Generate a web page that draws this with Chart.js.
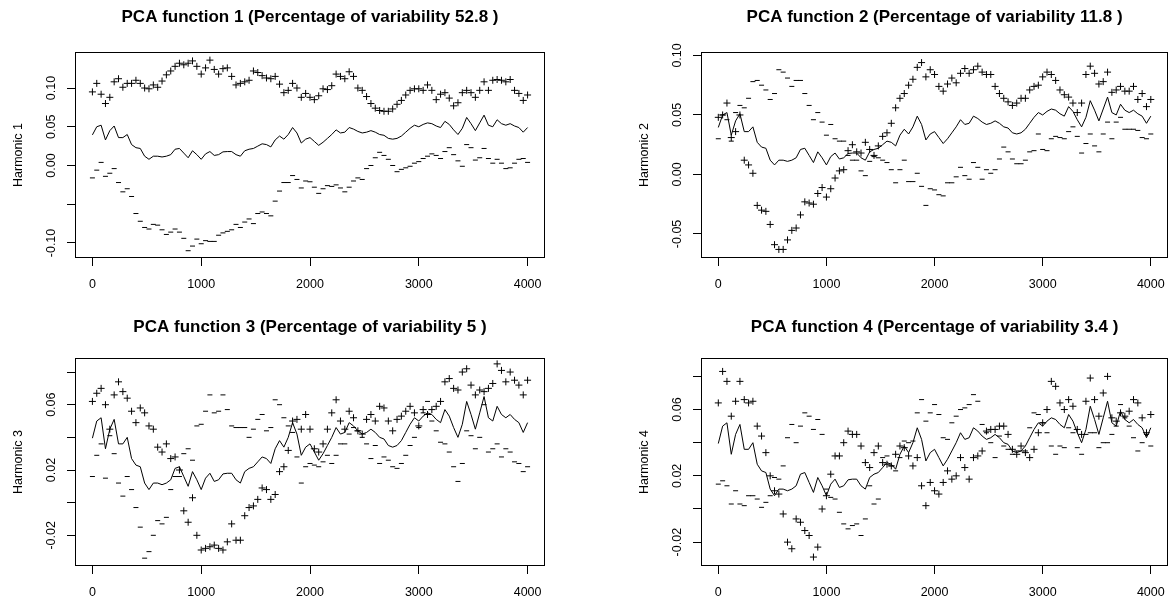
<!DOCTYPE html>
<html>
<head>
<meta charset="utf-8">
<title>PCA functions</title>
<script src="https://cdn.jsdelivr.net/npm/chart.js@4.4.1/dist/chart.umd.min.js"></script>
<style>
  html, body { margin: 0; padding: 0; background: #fff; overflow: hidden; }
  .panel { position: absolute; }
</style>
</head>
<body>
<div class="panel" style="left:0;top:0"><canvas id="pca1" width="560" height="300"></canvas></div>
<div class="panel" style="left:626px;top:0"><canvas id="pca2" width="550" height="300"></canvas></div>
<div class="panel" style="left:0;top:306px"><canvas id="pca3" width="560" height="295"></canvas></div>
<div class="panel" style="left:626px;top:306px"><canvas id="pca4" width="550" height="295"></canvas></div>
<script>
// sample positions (shared by every series)
const xs = [
    0, 40, 80, 120, 160, 200, 240, 280, 320, 360,
    400, 440, 480, 520, 560, 600, 640, 680, 720, 760,
    800, 840, 880, 920, 960, 1000, 1040, 1080, 1120, 1160,
    1200, 1240, 1280, 1320, 1360, 1400, 1440, 1480, 1520, 1560,
    1600, 1640, 1680, 1720, 1760, 1800, 1840, 1880, 1920, 1960,
    2000, 2040, 2080, 2120, 2160, 2200, 2240, 2280, 2320, 2360,
    2400, 2440, 2480, 2520, 2560, 2600, 2640, 2680, 2720, 2760,
    2800, 2840, 2880, 2920, 2960, 3000, 3040, 3080, 3120, 3160,
    3200, 3240, 3280, 3320, 3360, 3400, 3440, 3480, 3520, 3560,
    3600, 3640, 3680, 3720, 3760, 3800, 3840, 3880, 3920, 3960,
    4000
];

// mean function (same line in all four panels)
const meanCurve = [
    0.0395, 0.050, 0.052, 0.033, 0.045, 0.051, 0.036, 0.036, 0.040, 0.027,
    0.023, 0.022, 0.012, 0.008, 0.012, 0.012, 0.011, 0.012, 0.014, 0.021,
    0.022, 0.016, 0.010, 0.019, 0.014, 0.008, 0.015, 0.018, 0.013, 0.014,
    0.0176, 0.018, 0.018, 0.014, 0.012, 0.019, 0.021, 0.022, 0.025, 0.028,
    0.027, 0.024, 0.033, 0.038, 0.034, 0.040, 0.049, 0.042, 0.029, 0.034,
    0.036, 0.031, 0.026, 0.030, 0.035, 0.040, 0.046, 0.042, 0.043, 0.049,
    0.047, 0.044, 0.042, 0.043, 0.045, 0.043, 0.040, 0.039, 0.035, 0.034,
    0.035, 0.038, 0.043, 0.048, 0.052, 0.050, 0.053, 0.055, 0.054, 0.051,
    0.049, 0.057, 0.053, 0.046, 0.040, 0.048, 0.062, 0.054, 0.045, 0.055,
    0.065, 0.052, 0.050, 0.059, 0.054, 0.052, 0.054, 0.051, 0.049, 0.043,
    0.049
];

// harmonic 1
const plus1 = [
    0.095, 0.106, 0.092, 0.080, 0.088, 0.108, 0.112, 0.101, 0.106, 0.106,
    0.110, 0.106, 0.100, 0.099, 0.104, 0.101, 0.109, 0.117, 0.122, 0.128,
    0.132, 0.130, 0.132, 0.135, 0.128, 0.118, 0.126, 0.136, 0.124, 0.118,
    0.125, 0.126, 0.115, 0.104, 0.106, 0.108, 0.110, 0.122, 0.120, 0.116,
    0.113, 0.112, 0.115, 0.105, 0.094, 0.097, 0.106, 0.100, 0.088, 0.093,
    0.088, 0.085, 0.090, 0.099, 0.098, 0.103, 0.118, 0.115, 0.112, 0.121,
    0.115, 0.100, 0.097, 0.089, 0.080, 0.074, 0.071, 0.070, 0.070, 0.073,
    0.079, 0.084, 0.091, 0.097, 0.099, 0.099, 0.097, 0.104, 0.097, 0.085,
    0.092, 0.094, 0.087, 0.077, 0.081, 0.094, 0.097, 0.094, 0.088, 0.097,
    0.108, 0.097, 0.110, 0.111, 0.110, 0.108, 0.111, 0.097, 0.093, 0.084,
    0.091
];
const minus1 = [
    -0.016, -0.006, 0.004, -0.014, -0.010, -0.004, -0.022, -0.034, -0.030, -0.040,
    -0.062, -0.072, -0.080, -0.082, -0.076, -0.077, -0.083, -0.089, -0.086, -0.082,
    -0.086, -0.094, -0.110, -0.104, -0.095, -0.101, -0.097, -0.098, -0.098, -0.090,
    -0.087, -0.085, -0.083, -0.076, -0.080, -0.073, -0.069, -0.075, -0.062, -0.060,
    -0.062, -0.065, -0.046, -0.033, -0.022, -0.022, -0.013, -0.018, -0.029, -0.020,
    -0.021, -0.028, -0.036, -0.030, -0.026, -0.027, -0.025, -0.029, -0.034, -0.028,
    -0.020, -0.016, -0.018, -0.004, 0.000, 0.010, 0.017, 0.013, 0.008, 0.000,
    -0.008, -0.005, -0.003, -0.001, 0.003, 0.005, 0.009, 0.012, 0.015, 0.013,
    0.009, 0.018, 0.023, 0.014, 0.006, -0.001, 0.027, 0.023, 0.007, 0.010,
    0.022, 0.009, 0.003, 0.008, 0.003, -0.004, -0.003, 0.003, 0.008, 0.009,
    0.004
];

// harmonic 2
const plus2 = [
    0.048, 0.050, 0.060, 0.031, 0.036, 0.050, 0.012, 0.008, 0.001, -0.026,
    -0.030, -0.031, -0.042, -0.059, -0.063, -0.063, -0.055, -0.047, -0.045, -0.034,
    -0.023, -0.024, -0.025, -0.016, -0.011, -0.019, -0.012, -0.003, 0.003, 0.004,
    0.020, 0.025, 0.019, 0.018, 0.027, 0.021, 0.016, 0.024, 0.032, 0.035,
    0.043, 0.056, 0.064, 0.068, 0.075, 0.080, 0.090, 0.094, 0.082, 0.088,
    0.084, 0.074, 0.070, 0.076, 0.081, 0.077, 0.085, 0.089, 0.085, 0.088,
    0.091, 0.086, 0.084, 0.084, 0.074, 0.068, 0.064, 0.061, 0.058, 0.060,
    0.064, 0.064, 0.071, 0.074, 0.075, 0.082, 0.086, 0.084, 0.079, 0.071,
    0.067, 0.065, 0.060, 0.052, 0.060, 0.084, 0.091, 0.085, 0.076, 0.078,
    0.086, 0.069, 0.071, 0.074, 0.070, 0.070, 0.074, 0.063, 0.068, 0.057,
    0.063
];
const minus2 = [
    0.030, 0.050, 0.046, 0.028, 0.052, 0.058, 0.056, 0.064, 0.078, 0.079,
    0.075, 0.071, 0.063, 0.068, 0.088, 0.086, 0.081, 0.074, 0.079, 0.079,
    0.068, 0.058, 0.046, 0.052, 0.044, 0.033, 0.042, 0.030, 0.028, 0.028,
    0.016, 0.012, 0.012, 0.003, -0.001, 0.011, 0.015, 0.014, 0.012, 0.010,
    0.004, -0.007, 0.004, 0.012, -0.006, -0.006, 0.001, -0.010, -0.026, -0.012,
    -0.013, -0.017, -0.018, -0.007, -0.007, -0.002, 0.006, -0.001, -0.004, 0.010,
    0.006, -0.004, 0.004, 0.001, 0.004, 0.013, 0.023, 0.019, 0.013, 0.009,
    0.009, 0.012, 0.019, 0.020, 0.034, 0.021, 0.020, 0.030, 0.032, 0.031,
    0.030, 0.036, 0.040, 0.032, 0.018, 0.026, 0.034, 0.024, 0.019, 0.034,
    0.044, 0.030, 0.044, 0.048, 0.038, 0.038, 0.038, 0.037, 0.031, 0.030,
    0.034
];

// harmonic 3
const plus3 = [
    0.062, 0.067, 0.070, 0.060, 0.045, 0.066, 0.074, 0.068, 0.064, 0.056,
    0.049, 0.058, 0.055, 0.047, 0.045, 0.034, 0.031, 0.036, 0.027, 0.028,
    0.020, -0.005, -0.012, 0.003, -0.020, -0.029, -0.028, -0.027, -0.026, -0.028,
    -0.029, -0.024, -0.013, -0.023, -0.023, -0.008, -0.003, -0.002, 0.002, 0.009,
    0.008, 0.002, 0.005, 0.019, 0.022, 0.032, 0.050, 0.051, 0.045, 0.054,
    0.045, 0.033, 0.031, 0.036, 0.045, 0.055, 0.063, 0.050, 0.045, 0.056,
    0.052, 0.044, 0.042, 0.051, 0.054, 0.050, 0.059, 0.058, 0.050, 0.044,
    0.051, 0.053, 0.056, 0.059, 0.055, 0.047, 0.057, 0.054, 0.057, 0.059,
    0.062, 0.074, 0.076, 0.070, 0.069, 0.080, 0.082, 0.072, 0.066, 0.069,
    0.068, 0.070, 0.073, 0.085, 0.081, 0.074, 0.080, 0.075, 0.072, 0.066,
    0.075
];
const minus3 = [
    0.016, 0.029, 0.036, 0.015, 0.041, 0.030, 0.012, 0.004, 0.016, 0.008,
    -0.003, -0.015, -0.034, -0.030, -0.020, -0.011, -0.013, -0.009, 0.008, 0.016,
    0.016, 0.030, 0.033, 0.026, 0.047, 0.048, 0.056, 0.066, 0.055, 0.056,
    0.066, 0.057, 0.047, 0.046, 0.046, 0.046, 0.040, 0.045, 0.051, 0.054,
    0.044, 0.046, 0.063, 0.060, 0.052, 0.047, 0.043, 0.028, 0.012, 0.022,
    0.024, 0.023, 0.022, 0.025, 0.029, 0.024, 0.029, 0.036, 0.036, 0.042,
    0.046, 0.044, 0.040, 0.036, 0.027, 0.035, 0.024, 0.028, 0.026, 0.022,
    0.021, 0.024, 0.029, 0.035, 0.040, 0.046, 0.055, 0.062, 0.050, 0.044,
    0.037, 0.036, 0.031, 0.022, 0.013, 0.024, 0.044, 0.041, 0.033, 0.040,
    0.060, 0.031, 0.033, 0.036, 0.028, 0.033, 0.031, 0.025, 0.024, 0.019,
    0.022
];

// harmonic 4
const plus4 = [
    0.064, 0.083, 0.077, 0.056, 0.065, 0.077, 0.066, 0.064, 0.065, 0.050,
    0.044, 0.034, 0.020, 0.011, 0.009, -0.003, -0.020, -0.024, -0.006, -0.008,
    -0.013, -0.016, -0.029, -0.023, 0.000, 0.008, 0.021, 0.032, 0.032, 0.040,
    0.047, 0.045, 0.045, 0.038, 0.028, 0.025, 0.034, 0.038, 0.028, 0.027,
    0.026, 0.033, 0.038, 0.037, 0.032, 0.026, 0.031, 0.014, 0.002, 0.016,
    0.011, 0.009, 0.016, 0.023, 0.018, 0.020, 0.031, 0.025, 0.018, 0.031,
    0.032, 0.035, 0.047, 0.048, 0.048, 0.050, 0.050, 0.045, 0.036, 0.033,
    0.038, 0.034, 0.031, 0.036, 0.046, 0.052, 0.060, 0.077, 0.074, 0.064,
    0.060, 0.066, 0.062, 0.048, 0.045, 0.065, 0.079, 0.066, 0.056, 0.070,
    0.080, 0.055, 0.053, 0.058, 0.056, 0.059, 0.066, 0.064, 0.055, 0.046,
    0.057
];
const minus4 = [
    0.015, 0.017, 0.014, 0.003, 0.011, 0.003, 0.002, 0.008, 0.008, 0.006,
    0.001, 0.004, 0.008, 0.019, 0.018, 0.026, 0.043, 0.051, 0.040, 0.050,
    0.058, 0.056, 0.048, 0.054, 0.045, 0.012, 0.007, 0.006, -0.002, -0.009,
    -0.012, -0.010, -0.009, -0.016, -0.006, 0.014, 0.003, 0.006, 0.031, 0.032,
    0.026, 0.023, 0.031, 0.041, 0.040, 0.041, 0.058, 0.066, 0.053, 0.058,
    0.063, 0.057, 0.043, 0.042, 0.052, 0.056, 0.060, 0.061, 0.063, 0.069,
    0.065, 0.051, 0.046, 0.040, 0.031, 0.044, 0.038, 0.036, 0.033, 0.035,
    0.035, 0.035, 0.049, 0.058, 0.057, 0.052, 0.046, 0.038, 0.033, 0.038,
    0.037, 0.049, 0.046, 0.037, 0.033, 0.045, 0.046, 0.046, 0.037, 0.040,
    0.040, 0.045, 0.050, 0.063, 0.055, 0.050, 0.043, 0.035, 0.040, 0.045,
    0.038
];

// axes
const xTicks = [0, 1000, 2000, 3000, 4000];
const yTicks1 = [-0.10, -0.05, 0.00, 0.05, 0.10];
const yLabels1 = ["-0.10", "", "0.00", "0.05", "0.10"];
const yTicks2 = [-0.05, 0.00, 0.05, 0.10];
const yLabels2 = ["-0.05", "0.00", "0.05", "0.10"];
const yTicks34 = [-0.02, 0.00, 0.02, 0.04, 0.06, 0.08];
const yLabels34 = ["-0.02", "", "0.02", "", "0.06", ""];

const FONT = "'Liberation Sans', Arial, Helvetica, sans-serif";
Chart.defaults.font.family = FONT;
Chart.defaults.color = "#000";

function toPoints(values) {
    return xs.map((x, i) => ({ x: x, y: values[i] }));
}

// plot box + rotated y tick labels (R style)
const framePlugin = {
    id: "frame",
    afterDraw(chart, args, opts) {
        const ctx = chart.ctx;
        const a = chart.chartArea;
        ctx.save();
        ctx.strokeStyle = "#000";
        ctx.lineWidth = 1;
        ctx.strokeRect(Math.round(a.left) + 0.5, Math.round(a.top) + 0.5,
            Math.round(a.right - a.left) - 1, Math.round(a.bottom - a.top) - 1);
        const yScale = chart.scales.y;
        ctx.fillStyle = "#000";
        ctx.font = "12.5px " + FONT;
        ctx.textAlign = "center";
        ctx.textBaseline = "middle";
        opts.ticks.forEach((v, i) => {
            const label = opts.labels[i];
            if (!label) return;
            ctx.save();
            ctx.translate(a.left - 23, yScale.getPixelForValue(v));
            ctx.rotate(-Math.PI / 2);
            ctx.fillText(label, 0, 0);
            ctx.restore();
        });
        ctx.restore();
    }
};

function createPanel(canvasId, title, yTitle, plus, minus, yMin, yMax, yTicks, yLabels, xAxisHeight, titleTop) {
    const ctx = document.getElementById(canvasId).getContext("2d");
    new Chart(ctx, {
        type: "scatter",
        data: {
            datasets: [
                {
                    label: "mean",
                    data: toPoints(meanCurve),
                    showLine: true,
                    borderColor: "#000",
                    borderWidth: 1,
                    pointRadius: 0,
                    tension: 0,
                },
                {
                    label: "+",
                    data: toPoints(plus),
                    pointStyle: "cross",
                    pointRadius: 3.5,
                    borderColor: "#000",
                    borderWidth: 1,
                },
                {
                    label: "-",
                    data: toPoints(minus),
                    pointStyle: "line",
                    pointRadius: 2.5,
                    borderColor: "#000",
                    borderWidth: 1,
                },
            ],
        },
        options: {
            responsive: false,
            animation: false,
            events: [],
            layout: { padding: { left: 0, right: ctx.canvas.width - 545, top: 0, bottom: 0 } },
            plugins: {
                legend: { display: false },
                tooltip: { enabled: false },
                title: {
                    display: true,
                    text: title,
                    fullSize: false,
                    color: "#000",
                    font: { size: 17, weight: "bold", lineHeight: 1.2 },
                    padding: { top: titleTop, bottom: 31.6 - titleTop },
                },
                frame: { ticks: yTicks, labels: yLabels },
            },
            scales: {
                x: {
                    type: "linear",
                    min: -160,
                    max: 4160,
                    afterBuildTicks: s => { s.ticks = xTicks.map(v => ({ value: v })); },
                    afterFit: s => { s.height = xAxisHeight; },
                    ticks: {
                        autoSkip: false,
                        maxRotation: 0,
                        padding: 11,
                        color: "#000",
                        font: { size: 12.5 },
                        callback: v => String(v),
                    },
                    grid: { display: true, drawOnChartArea: false, drawTicks: true, tickLength: 8, color: "#000", tickColor: "#000" },
                    border: { display: false },
                },
                y: {
                    type: "linear",
                    min: yMin,
                    max: yMax,
                    afterBuildTicks: s => { s.ticks = yTicks.map(v => ({ value: v })); },
                    afterFit: s => { s.width = 75; },
                    ticks: { display: false },
                    grid: { display: true, drawOnChartArea: false, drawTicks: true, tickLength: 8, color: "#000", tickColor: "#000" },
                    border: { display: false },
                    title: {
                        display: true,
                        text: yTitle,
                        color: "#000",
                        font: { size: 12.5 },
                        padding: { top: 11, bottom: 0 },
                    },
                },
            },
        },
        plugins: [framePlugin],
    });
}

document.addEventListener("DOMContentLoaded", () => {
    createPanel("pca1", "PCA function 1 (Percentage of variability 52.8 )", "Harmonic 1",
        plus1, minus1, -0.1194, 0.1465, yTicks1, yLabels1, 42, 7);
    createPanel("pca2", "PCA function 2 (Percentage of variability 11.8 )", "Harmonic 2",
        plus2, minus2, -0.0702, 0.1029, yTicks2, yLabels2, 42, 7);
    createPanel("pca3", "PCA function 3 (Percentage of variability 5 )", "Harmonic 3",
        plus3, minus3, -0.0388, 0.0886, yTicks34, yLabels34, 35, 11);
    createPanel("pca4", "PCA function 4 (Percentage of variability 3.4 )", "Harmonic 4",
        plus4, minus4, -0.0344, 0.0911, yTicks34, yLabels34, 35, 11);
});
</script>
</body>
</html>
